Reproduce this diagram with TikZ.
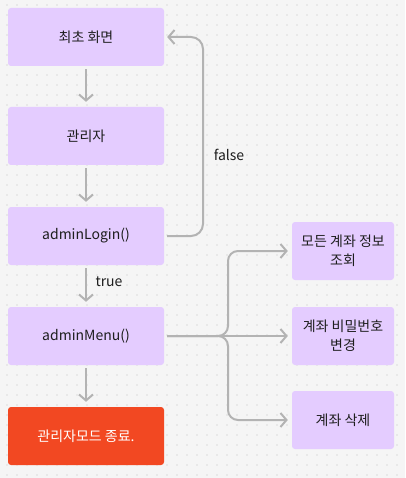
\documentclass[tikz,border=0pt]{standalone}
\usepackage{fontspec}
\setmainfont{Noto Sans CJK KR}
\usepackage{tikz}
\usetikzlibrary{calc,arrows.meta,positioning}
\definecolor{boxpurple}{HTML}{E4CCFF}
\definecolor{boxred}{HTML}{F24822}
\definecolor{linegray}{HTML}{B3B3B3}
\definecolor{dotgray}{HTML}{BDBDBD}
\definecolor{paper}{HTML}{F5F5F5}
\definecolor{ink}{HTML}{1E1E1E}

\tikzset{
  stepbox/.style={fill=boxpurple, rounded corners=3pt, minimum width=156pt, minimum height=58pt, text=ink, font=\fontsize{14}{19}\selectfont},
  menubox/.style={stepbox, minimum width=102pt, align=center},
  endbox/.style={stepbox, fill=boxred, text=white},
  flow/.style={draw=linegray, line width=2pt, -{Straight Barb[length=6pt,width=14pt,line width=2pt]}},
  lbl/.style={text=ink, font=\fontsize{14}{17}\selectfont}
}

\begin{document}
\begin{tikzpicture}[x=1pt,y=-1pt]
    \fill[paper] (0,0) rectangle (405,478);
    \useasboundingbox (0,0) rectangle (405,478);
    \foreach \i in {0,...,39}
      \foreach \j in {0,...,47}
        \fill[dotgray] (7+10*\i,5+10*\j) circle (0.6);

    \node[stepbox] (start) at (86,37) {최초 화면};
    \node[stepbox] (admin) at (86,136) {관리자};
    \node[stepbox] (login) at (86,236) {adminLogin()};
    \node[stepbox] (menu) at (86,336) {adminMenu()};
    \node[endbox] (quit) at (86,436) {관리자모드 종료.};

    \node[menubox] (viewall) at (343,251) {모든 계좌 정보\\조회};
    \node[menubox] (chpw) at (343,336) {계좌 비밀번호\\변경};
    \node[menubox] (delacc) at (343,420) {계좌 삭제};

    \draw[flow, shorten <=3pt, shorten >=5pt] (start) -- (admin);
    \draw[flow, shorten <=3pt, shorten >=5pt] (admin) -- (login);
    \draw[flow, shorten <=3pt, shorten >=5pt] (login) -- (menu);
    \draw[flow, shorten <=3pt, shorten >=5pt] (menu) -- (quit);

    % back to start
    \draw[flow, rounded corners=12pt, shorten <=3pt, shorten >=3pt]
      (login.east) -| (203,37) -- (start.east);
    \node[lbl] (falselbl) at (229,155) {false};
    \node[lbl] (truelbl) at (109,282) {true};

    % menu branches
    \draw[flow, rounded corners=10pt, shorten <=3pt, shorten >=4pt]
      (menu.east) -| (228,251) -- (viewall.west);
    \draw[flow, shorten <=3pt, shorten >=4pt] (menu.east) -- (chpw.west);
    \draw[flow, rounded corners=10pt, shorten <=3pt, shorten >=4pt]
      (menu.east) -| (228,420) -- (delacc.west);
\end{tikzpicture}
\end{document}
